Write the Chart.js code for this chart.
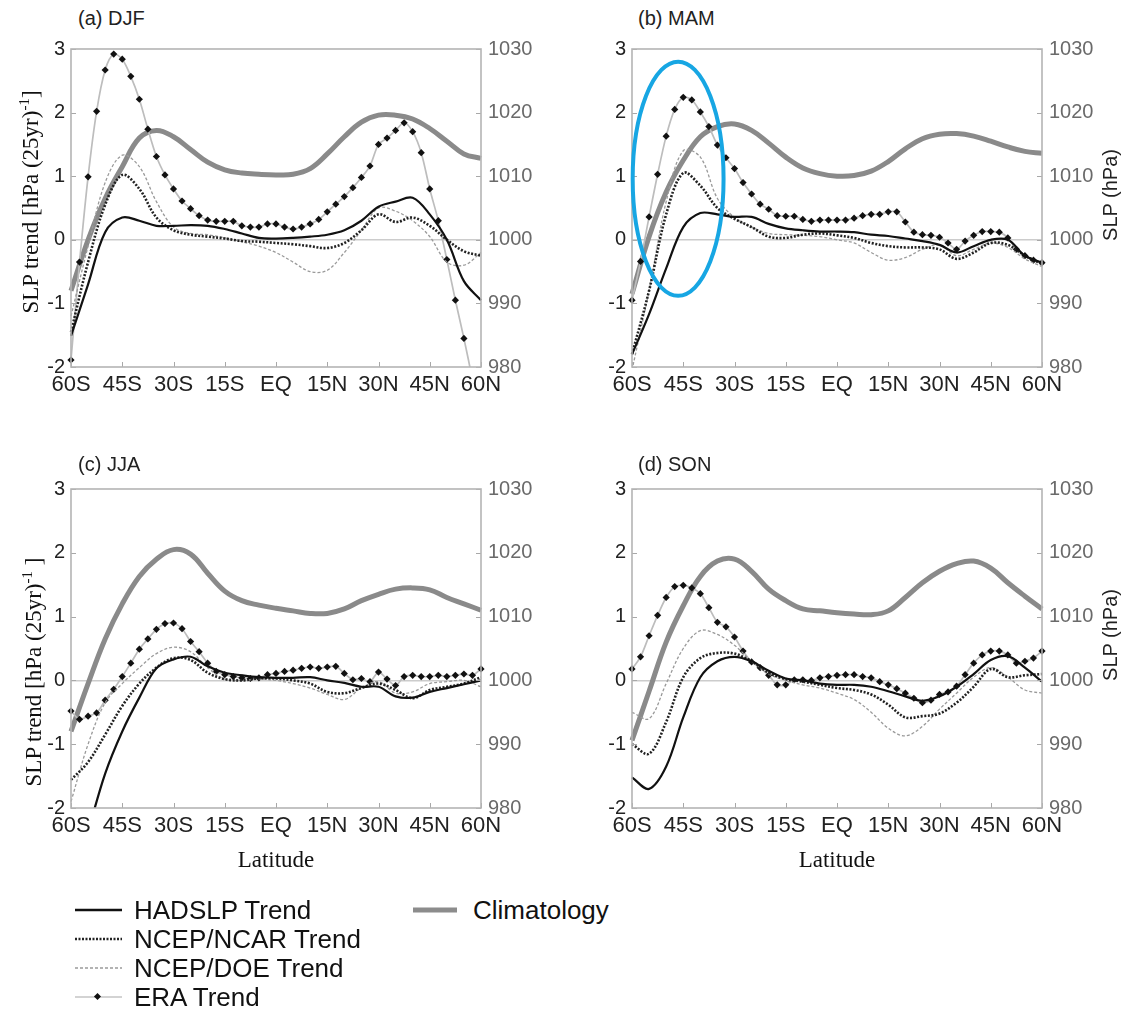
<!DOCTYPE html>
<html>
<head>
<meta charset="utf-8">
<script src="https://cdn.jsdelivr.net/npm/chart.js@4.4.1/dist/chart.umd.min.js"></script>
<style>
  body { margin: 0; background: #fff; }
  #page { position: relative; width: 1123px; height: 1010px; overflow: hidden; font-family: "Liberation Sans", Arial, sans-serif; }
  .panel { position: absolute; }
  .ptitle { position: absolute; font-size: 20px; color: #222; transform: translateY(-50%); white-space: nowrap; }
  .ylab { position: absolute; font-family: "Liberation Serif", "Times New Roman", serif; font-size: 23px; color: #111; white-space: nowrap; transform: translate(-50%, -50%) rotate(-90deg); }
  .ylab sup { font-size: 15px; }
  .y1lab { position: absolute; font-size: 20px; color: #222; white-space: nowrap; transform: translate(-50%, -50%) rotate(-90deg); }
  .xlab { position: absolute; font-family: "Liberation Serif", "Times New Roman", serif; font-size: 23px; color: #111; transform: translate(-50%, -50%); }
  .leg { position: absolute; font-size: 26px; color: #111; transform: translateY(-50%); white-space: nowrap; }
  .legsvg { position: absolute; }
</style>
</head>
<body>
<div id="page">
  <canvas id="cA" class="panel" width="560" height="380" style="left:0px;top:30px"></canvas>
  <canvas id="cB" class="panel" width="563" height="380" style="left:560px;top:30px"></canvas>
  <canvas id="cC" class="panel" width="560" height="380" style="left:0px;top:470px"></canvas>
  <canvas id="cD" class="panel" width="563" height="380" style="left:560px;top:470px"></canvas>

  <div class="ptitle" style="left:78px;top:18px">(a) DJF</div>
  <div class="ptitle" style="left:638px;top:18px">(b) MAM</div>
  <div class="ptitle" style="left:78px;top:464px">(c) JJA</div>
  <div class="ptitle" style="left:638px;top:464px">(d) SON</div>

  <div class="ylab" style="left:30px;top:202px">SLP trend [hPa (25yr)<sup>-1</sup>]</div>
  <div class="ylab" style="left:33px;top:672px">SLP trend [hPa (25yr)<sup>-1</sup> ]</div>
  <div class="y1lab" style="left:1110px;top:195px">SLP (hPa)</div>
  <div class="y1lab" style="left:1110px;top:635px">SLP (hPa)</div>

  <div class="xlab" style="left:276px;top:860px">Latitude</div>
  <div class="xlab" style="left:837px;top:860px">Latitude</div>

  <svg class="legsvg" width="1123" height="120" style="left:0;top:890px">
    <line x1="75" y1="20" x2="122" y2="20" stroke="#111" stroke-width="2.5"/>
    <line x1="75" y1="49" x2="122" y2="49" stroke="#222" stroke-width="2.6" stroke-dasharray="2,1.5"/>
    <line x1="75" y1="78" x2="122" y2="78" stroke="#9a9a9a" stroke-width="1.6" stroke-dasharray="3,2"/>
    <line x1="75" y1="107" x2="122" y2="107" stroke="#c4c4c4" stroke-width="1.6"/>
    <rect x="95" y="104" width="5" height="5" fill="#111" transform="rotate(45 97.5 106.5)"/>
    <line x1="413" y1="20" x2="457" y2="20" stroke="#8c8c8c" stroke-width="5"/>
  </svg>
  <div class="leg" style="left:134px;top:910px">HADSLP Trend</div>
  <div class="leg" style="left:134px;top:939px">NCEP/NCAR Trend</div>
  <div class="leg" style="left:134px;top:968px">NCEP/DOE Trend</div>
  <div class="leg" style="left:134px;top:997px">ERA Trend</div>
  <div class="leg" style="left:473px;top:910px">Climatology</div>
</div>

<script>
// latitudes (negative = south)
const lat5 = [-60, -55, -50, -45, -40, -35, -30, -25, -20, -15, -10, -5, 0, 5, 10, 15, 20, 25, 30, 35, 40, 45, 50, 55, 60];
const lat25 = [-60, -57.5, -55, -52.5, -50, -47.5, -45, -42.5, -40, -37.5, -35, -32.5, -30, -27.5, -25, -22.5, -20, -17.5, -15, -12.5, -10, -7.5, -5, -2.5, 0,
               2.5, 5, 7.5, 10, 12.5, 15, 17.5, 20, 22.5, 25, 27.5, 30, 32.5, 35, 37.5, 40, 42.5, 45, 47.5, 50, 52.5, 55, 57.5, 60];
const latTickLabels = ['60S', '45S', '30S', '15S', 'EQ', '15N', '30N', '45N', '60N'];

// DJF
const hadDJF  = [-1.51, -0.70, 0.12, 0.35, 0.30, 0.22, 0.22, 0.23, 0.22, 0.17, 0.10, 0.03, 0.02, 0.03, 0.05, 0.08, 0.15, 0.30, 0.52, 0.60, 0.66, 0.40, 0.00, -0.65, -0.95];
const ncarDJF = [-1.45, -0.35, 0.55, 1.02, 0.80, 0.35, 0.15, 0.08, 0.05, 0.02, -0.02, -0.03, -0.05, -0.07, -0.10, -0.13, -0.05, 0.15, 0.40, 0.28, 0.35, 0.22, 0.00, -0.18, -0.25];
const doeDJF  = [-1.20, -0.10, 0.90, 1.33, 1.15, 0.60, 0.20, 0.10, 0.08, 0.03, -0.03, -0.10, -0.20, -0.35, -0.50, -0.48, -0.20, 0.15, 0.50, 0.45, 0.30, 0.05, -0.35, -0.40, -0.20];
const eraDJF  = [-1.89, -0.35, 0.99, 2.02, 2.67, 2.92, 2.84, 2.57, 2.21, 1.74, 1.31, 1.02, 0.80, 0.61, 0.49, 0.38, 0.31, 0.29, 0.29, 0.29, 0.22, 0.20, 0.20, 0.25, 0.25,
                 0.20, 0.17, 0.20, 0.25, 0.32, 0.44, 0.56, 0.68, 0.82, 0.98, 1.16, 1.50, 1.60, 1.72, 1.84, 1.70, 1.37, 0.80, 0.30, -0.31, -0.95, -1.55, -2.2, -2.9];
const climDJF = [992, 1000, 1006.5, 1011.5, 1016, 1017.2, 1016.2, 1014.2, 1012.2, 1011, 1010.5, 1010.3, 1010.2, 1010.3, 1011.2, 1013.5, 1016.2, 1018.5, 1019.6, 1019.6, 1019.0, 1017.5, 1015.5, 1013.5, 1012.8];

// MAM
const hadMAM  = [-1.80, -1.17, -0.45, 0.20, 0.42, 0.40, 0.36, 0.36, 0.25, 0.18, 0.15, 0.13, 0.13, 0.12, 0.08, 0.06, 0.02, -0.02, -0.08, -0.20, -0.10, 0.00, 0.00, -0.25, -0.36];
const ncarMAM = [-1.80, -0.80, 0.40, 1.05, 0.85, 0.50, 0.33, 0.20, 0.05, 0.03, 0.08, 0.10, 0.07, 0.03, -0.05, -0.10, -0.12, -0.12, -0.15, -0.30, -0.20, -0.05, -0.08, -0.25, -0.38];
const doeMAM  = [-2.05, -0.80, 0.60, 1.40, 1.30, 0.65, 0.35, 0.20, 0.10, 0.08, 0.07, 0.05, 0.00, -0.05, -0.20, -0.32, -0.28, -0.15, -0.08, -0.25, -0.15, -0.05, -0.12, -0.30, -0.42];
const eraMAM  = [-0.95, -0.34, 0.36, 1.03, 1.63, 2.05, 2.24, 2.20, 2.01, 1.78, 1.49, 1.29, 1.12, 0.90, 0.72, 0.56, 0.48, 0.38, 0.37, 0.37, 0.32, 0.29, 0.31, 0.31, 0.31,
                 0.31, 0.34, 0.38, 0.40, 0.40, 0.44, 0.44, 0.28, 0.12, 0.08, 0.07, 0.04, -0.05, -0.15, -0.02, 0.07, 0.13, 0.13, 0.12, 0.03, -0.15, -0.25, -0.32, -0.36];
const climMAM = [991.5, 1000.5, 1007.5, 1012.5, 1016.2, 1017.8, 1018.2, 1017.2, 1015.2, 1013, 1011.3, 1010.4, 1010, 1010.1, 1010.8, 1012.3, 1014.3, 1015.9, 1016.6, 1016.7, 1016.3, 1015.5, 1014.6, 1013.9, 1013.6];

// JJA
const hadJJA  = [-3.2, -2.36, -1.46, -0.80, -0.27, 0.19, 0.33, 0.37, 0.22, 0.12, 0.08, 0.05, 0.04, 0.04, 0.05, 0.00, -0.04, -0.10, -0.10, -0.25, -0.27, -0.18, -0.12, -0.06, 0.00];
const ncarJJA = [-1.56, -1.28, -0.85, -0.40, -0.05, 0.20, 0.35, 0.32, 0.12, 0.02, 0.00, 0.03, 0.03, 0.00, -0.05, -0.18, -0.20, -0.12, -0.05, -0.15, -0.28, -0.15, -0.10, -0.05, 0.05];
const doeJJA  = [-1.90, -1.00, -0.35, -0.05, 0.20, 0.42, 0.52, 0.45, 0.20, 0.02, 0.00, 0.02, 0.00, -0.05, -0.12, -0.22, -0.30, -0.12, -0.02, -0.20, -0.18, -0.05, -0.02, 0.00, -0.10];
const eraJJA  = [-0.48, -0.61, -0.56, -0.51, -0.31, -0.14, 0.06, 0.27, 0.49, 0.65, 0.80, 0.89, 0.90, 0.81, 0.61, 0.45, 0.27, 0.14, 0.09, 0.06, 0.04, 0.03, 0.04, 0.09, 0.11,
                 0.14, 0.16, 0.19, 0.21, 0.19, 0.21, 0.22, 0.11, 0.01, 0.03, -0.02, 0.13, 0.02, -0.08, 0.06, 0.08, 0.06, 0.06, 0.08, 0.06, 0.08, 0.10, 0.08, 0.18];
const climJJA = [992, 999.5, 1006.5, 1012, 1016.3, 1019, 1020.5, 1019.8, 1016.8, 1014, 1012.5, 1011.8, 1011.3, 1010.9, 1010.5, 1010.5, 1011.2, 1012.5, 1013.5, 1014.3, 1014.5, 1014.2, 1013, 1012, 1011];

// SON
const hadSON  = [-1.52, -1.70, -1.35, -0.58, 0.05, 0.30, 0.37, 0.30, 0.15, 0.03, 0.00, -0.05, -0.07, -0.07, -0.10, -0.17, -0.25, -0.32, -0.25, -0.10, 0.10, 0.32, 0.38, 0.20, -0.02];
const ncarSON = [-1.00, -1.15, -0.65, 0.05, 0.35, 0.43, 0.42, 0.30, 0.12, 0.02, -0.02, -0.07, -0.12, -0.15, -0.22, -0.38, -0.58, -0.56, -0.52, -0.35, -0.10, 0.18, 0.05, 0.08, 0.10];
const doeSON  = [-0.50, -0.60, -0.05, 0.50, 0.78, 0.72, 0.55, 0.30, 0.10, 0.00, -0.07, -0.12, -0.20, -0.30, -0.50, -0.75, -0.87, -0.72, -0.45, -0.20, 0.05, 0.20, 0.05, -0.15, -0.20];
const eraSON  = [0.18, 0.37, 0.70, 1.02, 1.30, 1.47, 1.49, 1.45, 1.36, 1.14, 0.91, 0.84, 0.68, 0.46, 0.29, 0.20, 0.08, -0.07, -0.07, 0.01, 0.01, 0.00, 0.04, 0.06, 0.08,
                 0.09, 0.09, 0.06, 0.04, -0.02, -0.07, -0.13, -0.20, -0.28, -0.35, -0.31, -0.22, -0.18, -0.09, 0.09, 0.27, 0.40, 0.46, 0.46, 0.40, 0.27, 0.30, 0.35, 0.46];
const climSON = [990.6, 998.3, 1006.0, 1011.7, 1016.3, 1018.7, 1019.0, 1017.1, 1014.3, 1012.5, 1011.2, 1010.9, 1010.6, 1010.4, 1010.3, 1010.9, 1013.0, 1015.3, 1017.1, 1018.3, 1018.7, 1017.6, 1015.3, 1013.2, 1011.2];

// blue ring drawn round the MAM peak (data units)
const ringCenter = { lat: -46.5, trend: 0.96 };
const ringRadius = { lat: 13.3, trend: 1.84 };

function pts(xs, ys) {
  return xs.map((x, i) => ({ x: x, y: ys[i] }));
}

function montarDatasets(had, ncar, doe, era, clim) {
  return [
    { label: 'HADSLP Trend', data: pts(lat5, had), yAxisID: 'y', borderColor: '#111', borderWidth: 2.2, pointRadius: 0, tension: 0.35 },
    { label: 'NCEP/NCAR Trend', data: pts(lat5, ncar), yAxisID: 'y', borderColor: '#222', borderWidth: 2.6, borderDash: [2, 1.6], pointRadius: 0, tension: 0.35 },
    { label: 'NCEP/DOE Trend', data: pts(lat5, doe), yAxisID: 'y', borderColor: '#9a9a9a', borderWidth: 1.3, borderDash: [3, 2], pointRadius: 0, tension: 0.35 },
    { label: 'ERA Trend', data: pts(lat25, era), yAxisID: 'y', borderColor: '#bdbdbd', borderWidth: 1.7, tension: 0.3,
      pointRadius: 3.6, pointStyle: 'rectRot', pointBackgroundColor: '#111', pointBorderColor: '#111', pointBorderWidth: 0 },
    { label: 'Climatology', data: pts(lat5, clim), yAxisID: 'y1', borderColor: '#8a8a8a', borderWidth: 5, pointRadius: 0, tension: 0.4 }
  ];
}

// frame, inward ticks and the optional ring
const moldura = {
  id: 'moldura',
  afterDraw(chart) {
    const ctx = chart.ctx;
    const a = chart.chartArea;
    const sx = chart.scales.x, sy = chart.scales.y, sy1 = chart.scales.y1;
    ctx.save();
    ctx.strokeStyle = '#a8a8a8';
    ctx.lineWidth = 1;
    sx.ticks.forEach(t => {
      const px = Math.round(sx.getPixelForValue(t.value)) + 0.5;
      ctx.beginPath(); ctx.moveTo(px, a.bottom); ctx.lineTo(px, a.bottom - 5); ctx.stroke();
    });
    sy.ticks.forEach(t => {
      const py = Math.round(sy.getPixelForValue(t.value)) + 0.5;
      ctx.beginPath(); ctx.moveTo(a.left, py); ctx.lineTo(a.left + 5, py); ctx.stroke();
    });
    sy1.ticks.forEach(t => {
      const py = Math.round(sy1.getPixelForValue(t.value)) + 0.5;
      ctx.beginPath(); ctx.moveTo(a.right, py); ctx.lineTo(a.right - 5, py); ctx.stroke();
    });
    ctx.strokeStyle = '#b4b4b4';
    ctx.lineWidth = 1.6;
    ctx.strokeRect(a.left, a.top, a.right - a.left, a.bottom - a.top);
    if (chart.options.plugins.moldura && chart.options.plugins.moldura.ring) {
      const cx = sx.getPixelForValue(ringCenter.lat);
      const cy = sy.getPixelForValue(ringCenter.trend);
      const rx = Math.abs(sx.getPixelForValue(ringCenter.lat + ringRadius.lat) - cx);
      const ry = Math.abs(sy.getPixelForValue(ringCenter.trend + ringRadius.trend) - cy);
      ctx.strokeStyle = '#17a6e3';
      ctx.lineWidth = 4;
      ctx.beginPath();
      ctx.ellipse(cx, cy, rx, ry, 0, 0, Math.PI * 2);
      ctx.stroke();
    }
    ctx.restore();
  }
};

function plotarPainel(id, geo, datasets, ring) {
  const ctx = document.getElementById(id).getContext('2d');
  return new Chart(ctx, {
    type: 'line',
    data: { datasets: datasets },
    options: {
      responsive: false,
      animation: false,
      layout: { padding: { top: geo.padTop, left: 0, right: 0, bottom: 0 } },
      datasets: { line: { clip: { left: 6, right: 6, top: 6, bottom: 0 } } },
      plugins: { legend: { display: false }, tooltip: { enabled: false }, moldura: { ring: ring } },
      scales: {
        x: {
          type: 'linear', min: -60, max: 60,
          afterFit: s => { s.height = geo.xH; },
          grid: { display: false, drawTicks: false },
          border: { display: false },
          ticks: {
            stepSize: 15, autoSkip: false, maxRotation: 0, padding: 5,
            color: '#222',
            font: { family: '"Liberation Sans Narrow", "Liberation Sans", Arial', size: 22 },
            callback: (v, i) => latTickLabels[i]
          }
        },
        y: {
          position: 'left', min: -2, max: 3,
          afterFit: s => { s.width = geo.yW; },
          grid: {
            drawTicks: false,
            color: c => (c.tick && c.tick.value === 0) ? '#cccccc' : 'rgba(0,0,0,0)',
            lineWidth: 1.5
          },
          border: { display: false },
          ticks: { stepSize: 1, padding: 6, color: '#222', font: { family: '"Liberation Sans", Arial', size: 20 }, callback: v => String(v) }
        },
        y1: {
          position: 'right', min: 980, max: 1030,
          afterFit: s => { s.width = geo.y1W; },
          grid: { display: false, drawTicks: false },
          border: { display: false },
          ticks: { stepSize: 10, padding: 7, color: '#6a6a6a', font: { family: '"Liberation Sans", Arial', size: 20 }, callback: v => String(v) }
        }
      }
    },
    plugins: [moldura]
  });
}

plotarPainel('cA', { padTop: 14, xH: 43, yW: 71, y1W: 79 }, montarDatasets(hadDJF, ncarDJF, doeDJF, eraDJF, climDJF), false);
plotarPainel('cB', { padTop: 14, xH: 43, yW: 72, y1W: 81 }, montarDatasets(hadMAM, ncarMAM, doeMAM, eraMAM, climMAM), true);
plotarPainel('cC', { padTop: 15, xH: 42, yW: 71, y1W: 79 }, montarDatasets(hadJJA, ncarJJA, doeJJA, eraJJA, climJJA), false);
plotarPainel('cD', { padTop: 15, xH: 42, yW: 72, y1W: 81 }, montarDatasets(hadSON, ncarSON, doeSON, eraSON, climSON), false);
</script>
</body>
</html>
